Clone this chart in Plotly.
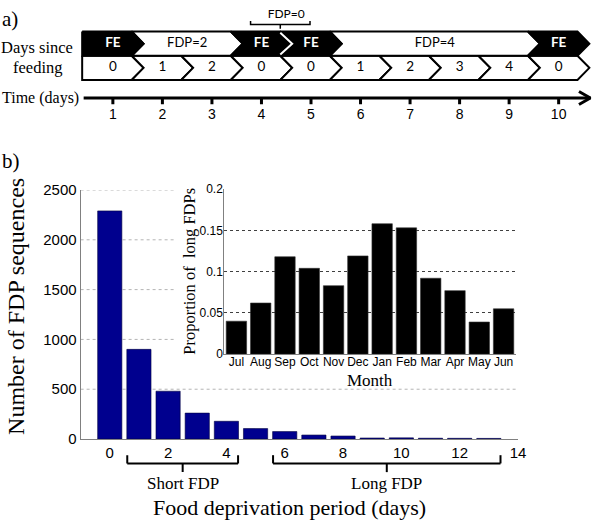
import plotly.graph_objects as go

W, H = 600, 529

# ---------------- Panel a data ----------------
days = list(range(1, 11))
days_since_feeding = [0, 1, 2, 0, 0, 1, 2, 3, 4, 0]
seg_labels = ["FE", "FDP=2", "FE", "FE", "FDP=4", "FE"]
seg_start = [1, 2, 4, 5, 6, 10]
seg_end = [1, 3, 4, 5, 9, 10]
seg_is_fe = [True, False, True, True, False, True]
fdp0_label = "FDP=0"
fdp0_boundary = 4.5

# ---------------- Panel b data ----------------
fdp_days = list(range(14))
fdp_counts = [2290, 900, 480, 260, 178, 105, 75, 40, 30, 10, 12, 8, 7, 6]
count_ticks = [0, 500, 1000, 1500, 2000, 2500]
fdp_ticks = [0, 2, 4, 6, 8, 10, 12, 14]
short_range = (1, 4)
long_range = (6, 13)

months = ["Jul", "Aug", "Sep", "Oct", "Nov", "Dec", "Jan", "Feb", "Mar", "Apr", "May", "Jun"]
prop_long = [0.040, 0.062, 0.118, 0.104, 0.083, 0.119, 0.158, 0.153, 0.092, 0.077, 0.039, 0.055]
prop_ticks = [0, 0.05, 0.1, 0.15, 0.2]
prop_ticktext = ["0", "0.05", "0.1", "0.15", "0.2"]

# ---------------- layout geometry (pixels) ----------------
def PX(x):
    return x / W

def PY(y):
    return 1 - y / H

main_x_px = (81.7, 525.0)
main_y_px = (187.0, 444.3)
inset_x_px = (227.3, 522.7)
inset_y_px = (186.0, 356.7)
box_left_px, box_bottom_px = 178.0, 390.0

SERIF = "Liberation Serif, Times New Roman, serif"
SANS = "Liberation Sans, Arial, sans-serif"
DIAG = "Lato, Open Sans, sans-serif"

fig = go.Figure()

# ---------------- Panel a: schematic ----------------
A_X0, A_DX = 64.2, 50.2          # day -> pixel
A_H = 120.0
c = 0.12                          # chevron half depth (days)
top_row = (23.3, 48.3)
bot_row = (48.3, 73.3)


def chevron(a, b, y0, y1, flat_left):
    ym = (y0 + y1) / 2
    xl = a - 0.5 - c
    xr = b + 0.5 - c
    xs = [xl, xr, xr + 2 * c, xr, xl]
    ys = [y0, y0, ym, y1, y1]
    if not flat_left:
        xs.append(xl + 2 * c)
        ys.append(ym)
    xs.append(xl)
    ys.append(y0)
    return xs, ys


def add_poly(xs, ys, fill, line="black", lw=2):
    fig.add_trace(go.Scatter(x=xs, y=ys, mode="lines", fill="toself", fillcolor=fill,
                             line=dict(color=line, width=lw), xaxis="x3", yaxis="y3",
                             hoverinfo="skip", showlegend=False))

# bottom row cells
for i, d in enumerate(days):
    xs, ys = chevron(d, d, bot_row[0], bot_row[1], i == 0)
    add_poly(xs, ys, "white")

# top row: white segments first, then black
for order in (False, True):
    for k in range(len(seg_labels)):
        if seg_is_fe[k] != order:
            continue
        xs, ys = chevron(seg_start[k], seg_end[k], top_row[0], top_row[1], k == 0)
        add_poly(xs, ys, "black" if seg_is_fe[k] else "white")

# white separators between consecutive black segments
for k in range(1, len(seg_labels)):
    if seg_is_fe[k] and seg_is_fe[k - 1]:
        b = seg_start[k] - 0.5
        ym = (top_row[0] + top_row[1]) / 2
        fig.add_trace(go.Scatter(x=[b - c, b + c, b - c], y=[top_row[0] + 1.2, ym, top_row[1] - 1.2],
                                 mode="lines", line=dict(color="white", width=2),
                                 xaxis="x3", yaxis="y3", hoverinfo="skip", showlegend=False))

# top row labels
for k in range(len(seg_labels)):
    xm = (seg_start[k] + seg_end[k]) / 2
    fig.add_trace(go.Scatter(x=[xm], y=[(top_row[0] + top_row[1]) / 2], mode="text",
                             text=["<b>%s</b>" % seg_labels[k] if seg_is_fe[k] else seg_labels[k]],
                             textfont=dict(family=DIAG, size=13.5 if seg_is_fe[k] else 13,
                                           color="white" if seg_is_fe[k] else "black"),
                             xaxis="x3", yaxis="y3", hoverinfo="skip", showlegend=False))

# bottom row labels
fig.add_trace(go.Scatter(x=days, y=[(bot_row[0] + bot_row[1]) / 2] * len(days), mode="text",
                         text=[str(v) for v in days_since_feeding],
                         textfont=dict(family=DIAG, size=13.5, color="black"),
                         xaxis="x3", yaxis="y3", hoverinfo="skip", showlegend=False))

# FDP=0 bracket
bx = fdp0_boundary - c
fig.add_trace(go.Scatter(x=[bx - 0.6, bx - 0.6, bx + 0.6, bx + 0.6, None, bx, bx],
                         y=[12.5, 16, 16, 12.5, None, 16, 20.5], mode="lines",
                         line=dict(color="black", width=1.5), xaxis="x3", yaxis="y3",
                         hoverinfo="skip", showlegend=False))
fig.add_trace(go.Scatter(x=[fdp0_boundary], y=[6], mode="text", text=[fdp0_label],
                         textfont=dict(family=DIAG, size=12, color="black"),
                         xaxis="x3", yaxis="y3", hoverinfo="skip", showlegend=False))

# time axis
t_y = 92.0
t_x0, t_x1 = days[0] - 0.59, days[-1] + 0.64
fig.add_trace(go.Scatter(x=[t_x0, t_x1], y=[t_y, t_y], mode="lines",
                         line=dict(color="black", width=3), xaxis="x3", yaxis="y3",
                         hoverinfo="skip", showlegend=False))
fig.add_trace(go.Scatter(x=[t_x1 - 0.23, t_x1, t_x1 - 0.23], y=[t_y - 6.7, t_y, t_y + 6.7],
                         mode="lines", line=dict(color="black", width=3), xaxis="x3", yaxis="y3",
                         hoverinfo="skip", showlegend=False))
tx, ty = [], []
for d in days:
    tx += [d, d, None]
    ty += [t_y, t_y + 6.5, None]
fig.add_trace(go.Scatter(x=tx, y=ty, mode="lines", line=dict(color="black", width=3),
                         xaxis="x3", yaxis="y3", hoverinfo="skip", showlegend=False))
fig.add_trace(go.Scatter(x=days, y=[110] * len(days), mode="text", text=[str(d) for d in days],
                         textfont=dict(family=SANS, size=14, color="black"),
                         xaxis="x3", yaxis="y3", hoverinfo="skip", showlegend=False))

# ---------------- Panel b: main bars ----------------
fig.add_trace(go.Bar(x=fdp_days, y=fdp_counts, width=0.83,
                     marker=dict(color="#00008E", line=dict(color="#000040", width=0.6)),
                     xaxis="x", yaxis="y", showlegend=False))

# inset bars
fig.add_trace(go.Bar(x=months, y=prop_long, width=0.84,
                     marker=dict(color="black", line=dict(color="#333333", width=0.6)),
                     xaxis="x2", yaxis="y2", showlegend=False))

# main gridlines (hidden behind the inset box)
ymin, ymax = count_ticks[0], count_ticks[-1]


def count_to_px(v):
    return main_y_px[1] - (v - ymin) / (ymax - ymin) * (main_y_px[1] - main_y_px[0])

shapes = []
for v in count_ticks[1:]:
    x1 = box_left_px if count_to_px(v) < box_bottom_px else main_x_px[1]
    shapes.append(dict(type="line", xref="paper", yref="y", x0=PX(main_x_px[0]), x1=PX(x1),
                       y0=v, y1=v, line=dict(color="#b4b4b4", width=1, dash="dot"), layer="below"))

# braces
annotations = []
for rng, lab in ((short_range, "Short FDP"), (long_range, "Long FDP")):
    xl, xr = rng[0] - 0.4, rng[1] + 0.4
    xm = (xl + xr) / 2
    yt, yl, ys = PY(461), PY(469.5), PY(478.5)
    for (a0, b0, a1, b1) in ((xl, yt, xl, yl), (xl, yl, xr, yl), (xr, yl, xr, yt), (xm, yl, xm, ys)):
        shapes.append(dict(type="line", xref="x", yref="paper", x0=a0, y0=b0, x1=a1, y1=b1,
                           line=dict(color="black", width=2)))
    annotations.append(dict(text=lab, xref="x", yref="paper", x=xm, y=PY(490), showarrow=False,
                            xanchor="center", yanchor="middle",
                            font=dict(family=SERIF, size=17, color="black")))

annotations += [
    dict(text="a)", x=PX(0), y=PY(10), xanchor="left", yanchor="middle",
         font=dict(family=SERIF, size=21)),
    dict(text="b)", x=PX(0), y=PY(157), xanchor="left", yanchor="middle",
         font=dict(family=SERIF, size=21)),
    dict(text="Days since", x=PX(38), y=PY(40), xanchor="center", yanchor="middle",
         font=dict(family=SERIF, size=16.5)),
    dict(text="feeding", x=PX(38), y=PY(60), xanchor="center", yanchor="middle",
         font=dict(family=SERIF, size=16.5)),
    dict(text="Time (days)", x=PX(82), y=PY(92), xanchor="right", yanchor="middle",
         font=dict(family=SERIF, size=16)),
    dict(text="Number of FDP sequences", x=PX(16), y=PY(307), textangle=-90,
         xanchor="center", yanchor="middle", font=dict(family=SERIF, size=24)),
    dict(text="Food deprivation period (days)", x=PX(293), y=PY(515), xanchor="center",
         yanchor="middle", font=dict(family=SERIF, size=22)),
    dict(text="Proportion of  long FDPs", x=PX(192), y=PY(271), textangle=-90,
         xanchor="center", yanchor="middle", font=dict(family=SERIF, size=16.5)),
    dict(text="Month", x=PX((inset_x_px[0] + inset_x_px[1]) / 2), y=PY(384), xanchor="center",
         yanchor="middle", font=dict(family=SERIF, size=17)),
]
for a in annotations:
    a.setdefault("xref", "paper")
    a.setdefault("yref", "paper")
    a.setdefault("showarrow", False)
    a["font"].setdefault("color", "black")

fig.update_layout(
    width=W, height=H, margin=dict(l=0, r=0, t=0, b=0),
    paper_bgcolor="white", plot_bgcolor="rgba(0,0,0,0)",
    showlegend=False, bargap=0.17,
    shapes=shapes, annotations=annotations,
    xaxis=dict(domain=[PX(main_x_px[0]), PX(main_x_px[1])], range=[-1, 14], tickvals=fdp_ticks,
               showgrid=False, zeroline=False, showline=True, linecolor="#808080", linewidth=1,
               ticks="", tickfont=dict(family=SANS, size=15, color="black"), anchor="y"),
    yaxis=dict(domain=[PY(main_y_px[1]), PY(main_y_px[0])], range=[ymin, ymax],
               tickvals=count_ticks, showgrid=False, zeroline=False, showline=True,
               linecolor="#808080", linewidth=1, ticks="",
               tickfont=dict(family=SANS, size=15, color="black"), anchor="x"),
    xaxis2=dict(domain=[PX(inset_x_px[0]), PX(inset_x_px[1])], anchor="y2", type="category",
                showgrid=False, zeroline=False, showline=True, linecolor="#808080", linewidth=1,
                ticks="", ticklabelstandoff=-4, tickangle=0,
                tickfont=dict(family=SANS, size=12, color="black")),
    yaxis2=dict(domain=[PY(inset_y_px[1]), PY(inset_y_px[0])], anchor="x2", range=[0, 0.2],
                tickvals=prop_ticks, ticktext=prop_ticktext, showgrid=True, griddash="dot",
                gridcolor="#404040", gridwidth=1, zeroline=False, showline=True,
                linecolor="#808080", linewidth=1, ticks="", ticklabelstandoff=-2,
                tickfont=dict(family=SANS, size=12, color="black")),
    xaxis3=dict(domain=[0, 1], range=[-A_X0 / A_DX, (W - A_X0) / A_DX], visible=False,
                anchor="y3"),
    yaxis3=dict(domain=[PY(A_H), 1], range=[A_H, 0], visible=False, anchor="x3"),
)

fig.write_html("out.html", config={"displayModeBar": False},
               post_script="document.body.style.margin='0px';")
